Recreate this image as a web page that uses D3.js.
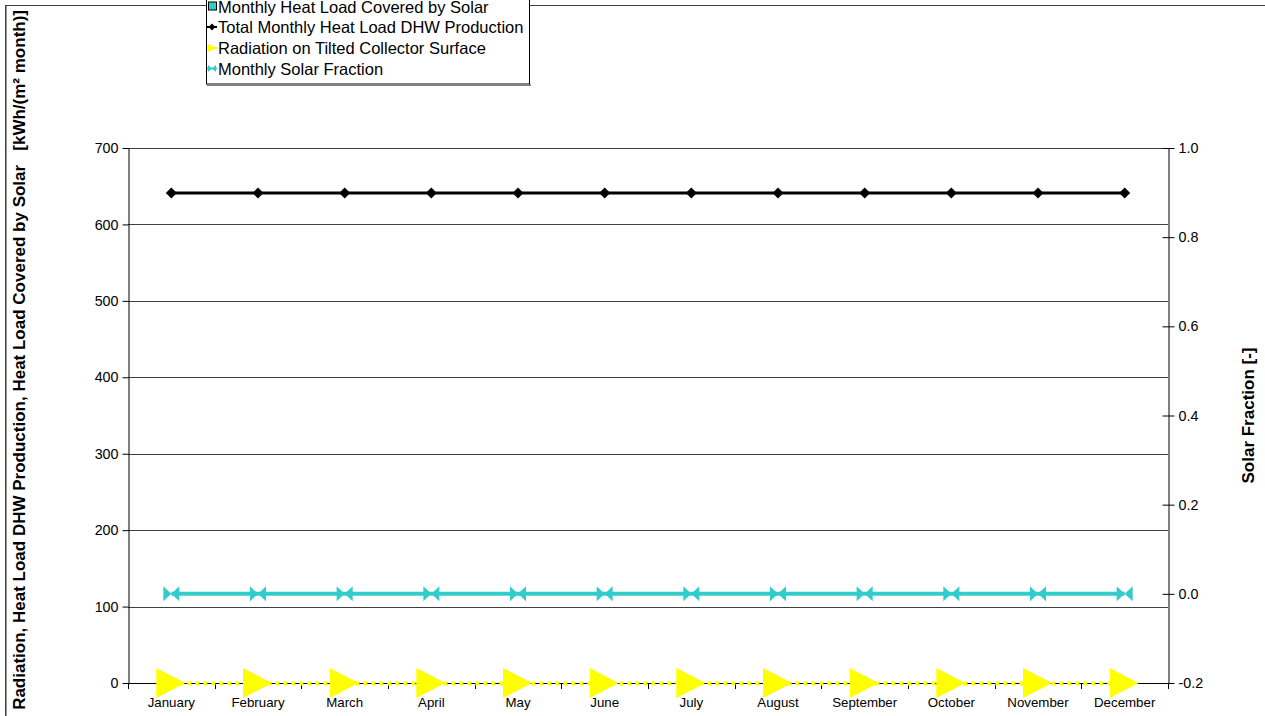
<!DOCTYPE html>
<html><head><meta charset="utf-8">
<script src="https://cdn.jsdelivr.net/npm/d3@7"></script>
<style>body{margin:0;background:#fff;}svg{display:block;font-family:"Liberation Sans",Arial,sans-serif;}</style>
</head><body>
<svg id="c" width="1265" height="716"></svg>
<script>
const months = ["January","February","March","April","May","June","July","August","September","October","November","December"];
const heatCovered = [0,0,0,0,0,0,0,0,0,0,0,0];
const totalLoad = [641,641,641,641,641,641,641,641,641,641,641,641];
const radiation = [0,0,0,0,0,0,0,0,0,0,0,0];
const solarFraction = [0,0,0,0,0,0,0,0,0,0,0,0];
const leftTicks = [0,100,200,300,400,500,600,700];
const rightTicks = [-0.2,0.0,0.2,0.4,0.6,0.8,1.0];
const legendLabels = ["Monthly Heat Load Covered by Solar","Total Monthly Heat Load DHW Production","Radiation on Tilted Collector Surface","Monthly Solar Fraction"];

const svg = d3.select("#c");
const L=128, R=1168, T=148, B=683;
const x = d3.scaleBand().domain(months).range([L,R]);
const y = d3.scaleLinear().domain([0,700]).range([B,T]);
const y2 = d3.scaleLinear().domain([-0.2,1.0]).range([B,T]);
const cx = m => x(m)+x.bandwidth()/2;

// outer frame
svg.append("rect").attr("x",5.5).attr("y",5.5).attr("width",1300).attr("height",800)
  .attr("fill","none").attr("stroke","#404040").attr("stroke-width",1);
svg.append("line").attr("x1",6.5).attr("x2",6.5).attr("y1",6).attr("y2",716).attr("stroke","#999").attr("stroke-width",1);

// gridlines
svg.append("g").selectAll("line").data(leftTicks.filter(d=>d>0)).join("line")
  .attr("x1",L).attr("x2",R).attr("y1",d=>Math.round(y(d))+0.5).attr("y2",d=>Math.round(y(d))+0.5)
  .attr("stroke","#404040").attr("stroke-width",1);

// left axis
const ga = svg.append("g").attr("transform",`translate(${L+0.5},0)`)
  .call(d3.axisLeft(y).tickValues(leftTicks).tickFormat(d3.format("d")).tickSize(6).tickSizeOuter(0).tickPadding(4));
ga.select(".domain").attr("stroke","#000");
ga.selectAll("text").attr("font-size",14.3).attr("font-family","Liberation Sans, Arial").attr("fill","#000");

// right axis (cross ticks)
const gr = svg.append("g").attr("transform",`translate(${R+0.5},0)`)
  .call(d3.axisRight(y2).tickValues(rightTicks).tickFormat(d3.format(".1f")).tickSize(6).tickSizeOuter(0).tickPadding(4));
gr.select(".domain").attr("stroke","#000");
gr.selectAll(".tick line").attr("x1",-6).attr("x2",6);
gr.selectAll("text").attr("font-size",14.3).attr("font-family","Liberation Sans, Arial").attr("fill","#000")
  .text(d=>d3.format(".1f")(d).replace("−","-"));

// bottom axis with boundary ticks
svg.append("line").attr("x1",L).attr("x2",R).attr("y1",B+0.5).attr("y2",B+0.5).attr("stroke","#000");
const bounds = months.map(m=>x(m)).concat([R]);
svg.append("g").selectAll("line").data(bounds).join("line")
  .attr("x1",d=>Math.round(d)+0.5).attr("x2",d=>Math.round(d)+0.5).attr("y1",B).attr("y2",B+6).attr("stroke","#000");
svg.append("g").selectAll("text").data(months).join("text")
  .attr("x",d=>cx(d)).attr("y",B+24).attr("text-anchor","middle").attr("font-size",13.3).text(d=>d);

// bars (heat covered by solar)
svg.append("g").selectAll("rect").data(heatCovered).join("rect")
  .attr("x",(d,i)=>x(months[i])+x.bandwidth()*0.25).attr("width",x.bandwidth()*0.5)
  .attr("y",d=>y(d)).attr("height",d=>B-y(d)).attr("fill","#33CCCC").attr("stroke","#000");

// total load line
const line = d3.line().x((d,i)=>cx(months[i]));
svg.append("path").datum(totalLoad).attr("d",line.y(d=>y(d))).attr("fill","none").attr("stroke","#000").attr("stroke-width",3);
svg.append("g").selectAll("path").data(totalLoad).join("path")
  .attr("transform",(d,i)=>`translate(${cx(months[i])},${y(d)})`).attr("d","M0,-5.5L5.5,0L0,5.5L-5.5,0Z").attr("fill","#000");

// solar fraction line
svg.append("path").datum(solarFraction).attr("d",d3.line().x((d,i)=>cx(months[i])).y(d=>y2(d))).attr("fill","none").attr("stroke","#33CCCC").attr("stroke-width",4);
svg.append("g").selectAll("path").data(solarFraction).join("path")
  .attr("transform",(d,i)=>`translate(${cx(months[i])},${y2(d)})`).attr("d","M-8,-7.5L0,0L-8,7.5ZM8,-7.5L0,0L8,7.5Z").attr("fill","#33CCCC");

// radiation line
svg.append("path").datum(radiation).attr("d",d3.line().x((d,i)=>cx(months[i])).y(d=>y(d)+0.5)).attr("fill","none").attr("stroke","#FFFF00").attr("stroke-width",4).attr("stroke-dasharray","4,4");
svg.append("g").selectAll("path").data(radiation).join("path")
  .attr("transform",(d,i)=>`translate(${cx(months[i])},${y(d)})`).attr("d","M-15,-15L14,0L-15,15Z").attr("fill","#FFFF00");

// axis titles
svg.append("text").attr("transform","translate(25,10) rotate(-90)").attr("text-anchor","end")
  .attr("font-size",17).attr("font-weight","bold").attr("xml:space","preserve")
  .text("Radiation, Heat Load DHW Production, Heat Load Covered by Solar   [kWh/(m² month)]");
svg.append("text").attr("transform",`translate(1254,${(T+B)/2}) rotate(-90)`).attr("text-anchor","middle")
  .attr("font-size",17).attr("font-weight","bold").text("Solar Fraction [-]");

// legend
const lg = svg.append("g");
lg.append("rect").attr("x",206.5).attr("y",-20).attr("width",323).attr("height",104).attr("fill","#fff").attr("stroke","#000");
lg.append("line").attr("x1",207).attr("x2",531).attr("y1",85).attr("y2",85).attr("stroke","#808080").attr("stroke-width",2);
const ly = [6.5,27,48,68.5];
const items = lg.selectAll("g").data(legendLabels).join("g").attr("transform",(d,i)=>`translate(0,${ly[i]})`);
items.append("text").attr("x",218).attr("y",6).attr("font-size",16.5).text(d=>d);
// markers
const m0 = items.filter((d,i)=>i===0);
m0.append("rect").attr("x",208.5).attr("y",-4.5).attr("width",8).attr("height",8).attr("fill","#33CCCC").attr("stroke","#000");
const m1 = items.filter((d,i)=>i===1);
m1.append("line").attr("x1",207).attr("x2",217).attr("stroke","#000").attr("stroke-width",2);
m1.append("path").attr("transform","translate(212,0)").attr("d","M0,-3.5L3.5,0L0,3.5L-3.5,0Z").attr("fill","#000");
const m2 = items.filter((d,i)=>i===2);
m2.append("line").attr("x1",207).attr("x2",217).attr("stroke","#FFFF00").attr("stroke-width",2);
m2.append("path").attr("transform","translate(212,0)").attr("d","M-4,-4L4,0L-4,4Z").attr("fill","#FFFF00");
const m3 = items.filter((d,i)=>i===3);
m3.append("line").attr("x1",207).attr("x2",217).attr("stroke","#33CCCC").attr("stroke-width",2);
m3.append("path").attr("transform","translate(212,0)").attr("d","M-4,-3.5L0,0L-4,3.5ZM4,-3.5L0,0L4,3.5Z").attr("fill","#33CCCC");
</script>
</body></html>
